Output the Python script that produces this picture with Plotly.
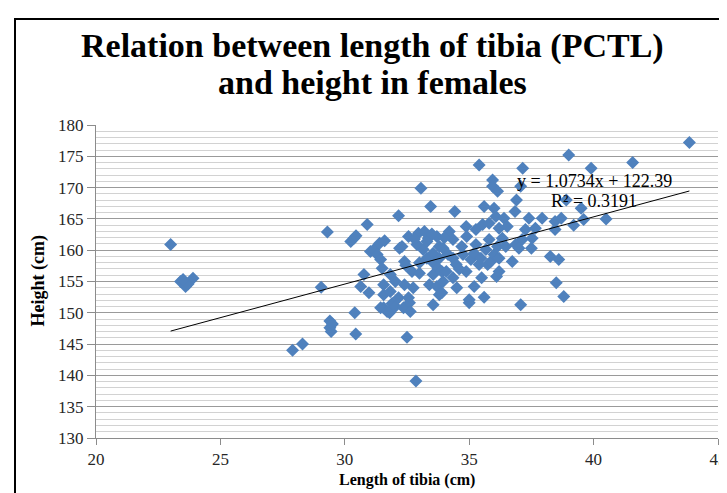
import plotly.graph_objects as go

# Length of tibia (cm)
tibia_cm = [
    23.0, 23.4, 23.6, 23.7, 23.9, 23.5,
    27.9, 28.3,
    29.05, 29.3, 29.4, 29.4, 29.45, 29.5,
    30.24, 30.37, 30.45, 30.4, 30.44,
    30.64, 30.77, 30.97, 30.9, 31.03, 31.17, 31.3, 31.4, 31.6,
    31.44, 31.5, 31.56, 31.56, 31.56, 31.44, 31.7, 31.8, 31.83, 31.83, 31.9,
    32.03, 32.03, 32.16, 32.16, 32.2, 32.3, 32.36, 32.4, 32.45, 32.4, 32.56, 32.56,
    32.6, 32.63, 32.5, 32.7, 32.75, 32.86, 32.9, 32.96, 33.0, 33.06, 33.15, 33.3,
    33.3, 33.36, 33.4, 33.45, 33.55, 33.55, 33.55, 33.55, 33.7, 33.7, 33.75, 33.8,
    33.8, 33.8, 33.9, 33.9, 33.95, 33.95,
    34.08, 34.15, 34.2, 34.35, 34.35, 34.35, 34.42, 34.48, 34.7, 34.75, 34.88, 34.88,
    34.9, 35.0, 35.0, 35.07, 35.2, 35.2, 35.27, 35.27, 35.4, 35.4, 35.47, 35.5,
    35.54, 35.6, 35.67, 35.74, 35.8, 35.8, 35.87, 35.94, 35.94, 36.0, 36.0, 36.07,
    36.1, 36.14, 36.14, 36.2, 36.2, 36.2, 36.33, 36.4, 36.47, 36.53, 36.73, 36.84,
    36.87, 36.9, 37.0, 37.07, 37.07, 37.13, 37.15, 37.26, 37.4, 37.5, 37.53, 37.66,
    37.93, 38.26, 38.45, 38.45, 38.6, 38.5, 38.8, 38.7, 38.9, 39.0, 39.2, 39.5,
    39.6, 39.9, 40.5, 41.57, 43.85,
    33.2, 33.5, 34.0, 33.0, 32.8, 34.6, 34.5, 35.6,
]

# Height (cm)
height_cm = [
    160.9, 155.0, 154.2, 154.6, 155.5, 155.3,
    144.0, 145.0,
    154.1, 162.9, 148.7, 147.6, 147.0, 148.2,
    161.4, 161.9, 162.3, 150.0, 146.6,
    154.2, 156.1, 153.2, 164.1, 159.8, 160.1, 159.3, 161.1, 161.5,
    158.5, 157.1, 154.5, 152.9, 150.8, 150.8, 150.2, 150.0, 153.4, 156.1, 151.5,
    155.0, 151.0, 152.4, 165.5, 160.3, 160.6, 150.8, 158.2, 157.6, 154.5, 152.4, 162.2,
    151.6, 150.2, 146.1, 156.6, 154.0, 139.1, 160.9, 162.7, 156.3, 169.9, 160.1, 161.4,
    158.7, 161.9, 154.5, 167.0, 159.5, 156.1, 151.3, 158.0, 162.2, 154.2, 157.1, 160.6,
    152.9, 158.7, 156.6, 153.2, 160.3, 155.0,
    156.6, 159.3, 163.0, 161.7, 158.7, 155.6, 166.2, 157.7, 160.6, 159.3, 163.8, 156.6,
    162.2, 152.1, 151.6, 158.5, 159.5, 154.2, 163.3, 160.9, 173.6, 157.7, 158.7, 155.6,
    164.1, 167.0, 160.1, 157.7, 164.3, 161.7, 158.2, 171.2, 170.2, 166.7, 159.3, 165.4,
    155.8, 169.4, 160.6, 163.5, 158.7, 156.6, 161.9, 165.1, 160.6, 163.8, 158.2, 166.2,
    160.9, 168.0, 160.3, 170.2, 151.3, 161.7, 173.1, 163.3, 165.1, 160.3, 161.9, 163.5,
    165.1, 159.0, 164.6, 163.3, 158.5, 154.8, 152.6, 165.1, 168.0, 175.2, 164.0, 166.7,
    164.9, 173.1, 165.0, 174.0, 177.2,
    163.0, 162.6, 162.0, 158.0, 161.8, 157.0, 154.0, 152.5,
]

# Linear trendline shown on the chart
trend_slope = 1.0734
trend_intercept = 122.39
trend_eq_text = "y = 1.0734x + 122.39"
trend_r2_text = "R² = 0.3191"

title_lines = ["Relation between length of tibia (PCTL)", "and height in females"]
x_title = "Length of tibia (cm)"
y_title = "Height (cm)"

x_ticks = [20, 25, 30, 35, 40, 45]
y_ticks = [130, 135, 140, 145, 150, 155, 160, 165, 170, 175, 180]

W, H = 727, 493
L, R, T, B = 88, 17, 117, 63
pw, ph = W - L - R, H - T - B


def px_x(p):
    return (p - L) / pw


def px_y(p):
    return (H - B - p) / ph


fig = go.Figure()

fig.add_trace(go.Scatter(
    x=tibia_cm, y=height_cm, mode="markers",
    marker=dict(symbol="diamond", size=10, color="#4F81BD", line=dict(width=0)),
    showlegend=False, hoverinfo="x+y",
))

tx = [min(tibia_cm), max(tibia_cm)]
ty = [trend_slope * v + trend_intercept for v in tx]
fig.add_trace(go.Scatter(
    x=tx, y=ty, mode="lines", line=dict(color="black", width=1),
    showlegend=False, hoverinfo="skip",
))

serif = "Liberation Serif, Times New Roman, serif"

annotations = [
    dict(text="<b>%s</b>" % title_lines[0], x=px_x(364), y=px_y(38), xref="paper", yref="paper",
         xanchor="center", yanchor="middle", showarrow=False,
         font=dict(family=serif, size=34, color="black")),
    dict(text="<b>%s</b>" % title_lines[1], x=px_x(364), y=px_y(74), xref="paper", yref="paper",
         xanchor="center", yanchor="middle", showarrow=False,
         font=dict(family=serif, size=34, color="black")),
    dict(text=trend_eq_text, x=px_x(586), y=px_y(173), xref="paper", yref="paper",
         xanchor="center", yanchor="middle", showarrow=False,
         font=dict(family=serif, size=18, color="black")),
    dict(text=trend_r2_text, x=px_x(586), y=px_y(193), xref="paper", yref="paper",
         xanchor="center", yanchor="middle", showarrow=False,
         font=dict(family=serif, size=18, color="black")),
    dict(text="<b>%s</b>" % y_title, x=px_x(30), y=0.5, xref="paper", yref="paper",
         xanchor="center", yanchor="middle", textangle=-90, showarrow=False,
         font=dict(family=serif, size=18, color="black")),
    dict(text="<b>%s</b>" % x_title, x=0.5, y=px_y(472), xref="paper", yref="paper",
         xanchor="center", yanchor="middle", showarrow=False,
         font=dict(family=serif, size=16, color="black")),
]

fig.update_layout(
    width=W, height=H,
    margin=dict(l=L, r=R, t=T, b=B, autoexpand=False),
    paper_bgcolor="white", plot_bgcolor="white",
    font=dict(family=serif, color="black"),
    xaxis=dict(
        range=[20, 45], tickvals=x_ticks, showgrid=False, zeroline=False,
        showline=True, linecolor="#8c8c8c", linewidth=1,
        ticks="outside", ticklen=6, tickcolor="#8c8c8c",
        tickfont=dict(family=serif, size=17, color="#262626"),
        fixedrange=True,
    ),
    yaxis=dict(
        range=[130, 180], tickvals=y_ticks, showgrid=True,
        gridcolor="#9a9a9a", gridwidth=1, zeroline=False,
        showline=True, linecolor="#8c8c8c", linewidth=1,
        ticks="outside", ticklen=8, tickcolor="#8c8c8c",
        tickfont=dict(family=serif, size=17, color="#262626"),
        minor=dict(dtick=1, showgrid=True, gridcolor="#d2d2d2", gridwidth=1, ticks=""),
        fixedrange=True,
    ),
    annotations=annotations,
    shapes=[
        dict(type="rect", xref="paper", yref="paper",
             x0=px_x(7), x1=px_x(745), y0=px_y(510), y1=px_y(11),
             line=dict(color="black", width=2), fillcolor="rgba(0,0,0,0)", layer="above"),
    ],
)

fig.write_html("out.html")
